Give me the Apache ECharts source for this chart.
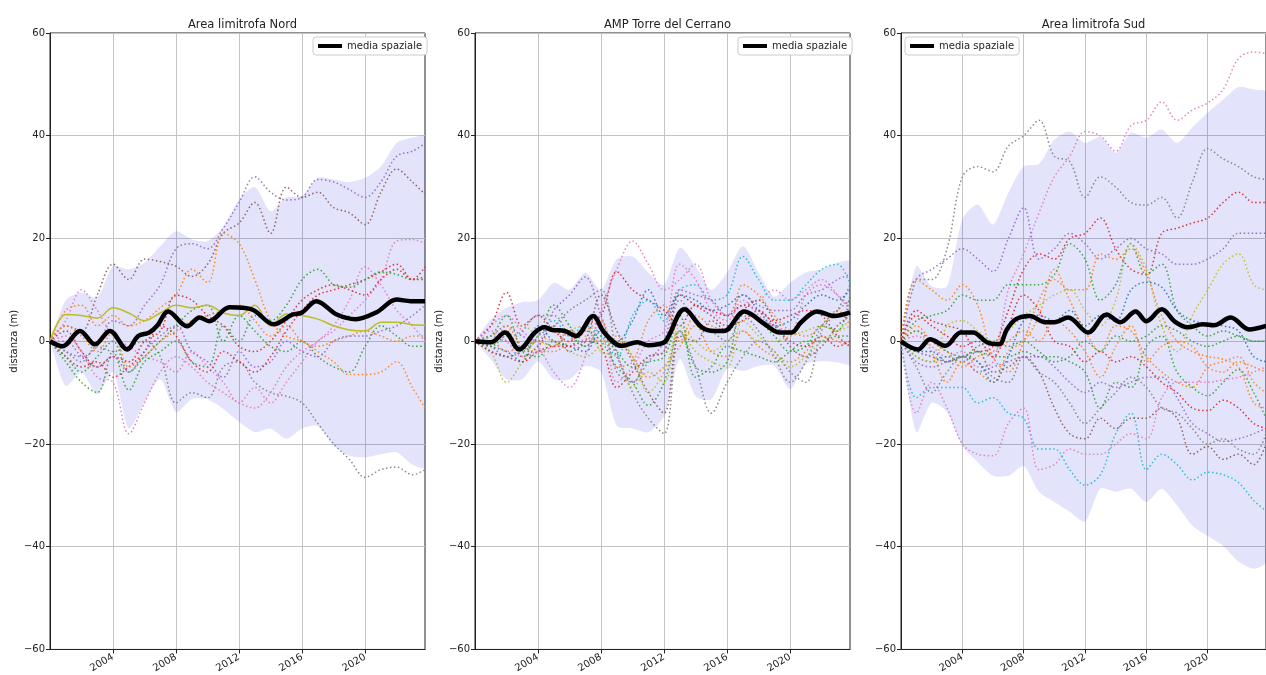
<!DOCTYPE html>
<html>
<head>
<meta charset="utf-8">
<script src="https://cdn.jsdelivr.net/npm/echarts@6/dist/echarts.min.js"></script>
<style>
  html, body { margin: 0; padding: 0; background: #ffffff; }
  #chart { width: 1266px; height: 675px; }
</style>
</head>
<body>
<div id="chart"></div>
<script>
// ---- sampling years for the transect series and the envelope ----
const YEARS = [2000, 2001, 2002, 2003, 2004, 2005, 2006, 2007, 2008, 2009, 2010, 2011,
               2012, 2013, 2014, 2015, 2016, 2017, 2018, 2019, 2020, 2021, 2022, 2023, 2023.8];
const TICK_YEARS = [2004, 2008, 2012, 2016, 2020];
const PANEL_TITLES = ['Area limitrofa Nord', 'AMP Torre del Cerrano', 'Area limitrofa Sud'];
const MEAN_NAME = 'media spaziale';

// ---- Area limitrofa Nord ----
const nordMeanYears = [2000, 2000.8, 2001.9, 2002.85, 2003.8, 2004.9, 2005.6, 2006.3, 2006.8, 2007.5, 2008.7,
  2009.5, 2010.1, 2011.4, 2012.8, 2014.2, 2015.4, 2016, 2016.9, 2018.2, 2019.4, 2020.7, 2022, 2022.9, 2023.8];
const nordMean = [0, -1, 2, -0.6, 2, -1.6, 1, 1.7, 3, 5.8, 2.9, 4.6, 3.9, 6.6, 6.2, 3.3, 5.2, 5.6, 7.8, 5.2,
  4.3, 5.6, 8.1, 7.8, 7.8];
const nordUpper = [0, 8, 9.5, 8.5, 14.6, 14, 15.3, 18.5, 21.4, 19.8, 19.5, 22.3, 27.6, 30, 25.3, 28, 28.2,
  31.8, 31.5, 31, 31.8, 34, 38.6, 39.6, 39.8];
const nordLower = [0, -8.7, -6, -10.3, -6, -17, -11.8, -7.4, -13.8, -11.3, -11.3, -13.2, -15.7, -17.7, -17,
  -19, -17, -16.5, -20.3, -22.3, -22.6, -22, -21.6, -24, -24.5];
const nord1 = [0, -2, -3, -1, 4, 3, 7, 11, 18, 19, 18, 22, 27, 32, 29, 27.5, 28, 31.5, 31, 29.5, 28, 31, 36, 37, 38.5];
const nord2 = [0, 3, 2, 9, 15, 12, 16, 15.5, 14.6, 12.6, 15, 21, 23, 27, 21, 30, 28, 29, 26, 25, 22.7, 29, 33.5, 31, 28.6];
const nord3 = [0, -2, -4, -1, -2, -1, 0, -3, -12, -10, -11, -5, -4, -8, -10, -10.7, -12, -16, -20, -23, -26.5, -25, -24.5, -26, -25];
const nord4 = [0, 6, 7, 3, 5, 3, 4, 6.5, 9, 14, 11.4, 21, 19, 12, 4, 1, 0, -2, -4, -6.5, -6.5, -6, -4, -9, -13];
const nord5 = [0, 5.2, 5, 4.5, 6.5, 5.5, 4, 5.5, 7, 6.5, 7, 5.5, 5, 7, 3, 5.3, 5, 4.3, 3, 2.2, 2, 3.7, 3.7, 3.2, 3.1];
const nord6 = [0, 4, 10, 6, 1, -1, -3, -4, -6, -2, -5, -8, -12, -9, -12, -8, -4, 0, 2, 5, 8, 12, 19.5, 19.8, 19];
const nord7 = [0, 1, -2, -7, -8, -18, -12, -6, -3, -5, -8, -10, -12, -13, -10, -5, -2, 0, 3, 8, 14.5, 11, 6, 3, 0];
const nord8 = [0, -3, -5, -4, -7, -5, -2, 3, 1, -4, -6, -2, -4, -6, -3, 2, 6, 9, 10, 11, 12, 13.5, 15, 12, 14.5];
const nord9 = [0, 2, -2, -5, -3, -4, 0, 2, 9, 8, 5, 3, -1, -2, 0, 4, 8, 10, 11, 10, 9, 12, 14, 12, 12];
const nord10 = [0, -4, -8, -10, -2, -9.5, -4, -2, 0, -4, -5, 3, 0, 5, 4, 7, 12, 14, 11, 10.5, 12, 13.5, 13, 12, 12.5];
const nord11 = [0, -3, -6, -3, 0, -6, -3, 0, 3, 6, 7, 0, 5, 2, -1, -2, 0, -3, -5, -6, -1, 3, 1, -1, -1];
const nord12 = [0, 3, 1, -2, 2, -5, -3, 0, 2, 4, 5, 6, 7, 4, 1, 3, 0, -1, 0, 1, 2, 1, 0, 1, 1];
const nord13 = [0, 0, -3, -5, -3, -6, -2, 1, 3, -2, -4, -7, -2, -5, -4, 0, -2, -3, 0, 1, 1, 2, 3, 5, 7];

// ---- AMP Torre del Cerrano ----
const cerrMeanYears = [2000, 2001, 2001.9, 2002.8, 2003.8, 2004.4, 2004.9, 2005.7, 2006.4, 2007.5, 2008.2,
  2009.3, 2010.3, 2011, 2011.6, 2012.1, 2013.3, 2014.4, 2015.2, 2015.8, 2017.1, 2018.4, 2019.3, 2020.1,
  2020.7, 2021.7, 2022.8, 2023.8];
const cerrMean = [0, -0.2, 1.7, -1.6, 1.7, 2.7, 2.2, 2, 1, 4.9, 1.7, -0.9, -0.2, -0.8, -0.6, 0, 6.2, 2.7, 2,
  2, 5.8, 3.3, 1.7, 1.7, 3.7, 5.8, 4.9, 5.6];
const cerrUpper = [0, 4.3, 6.5, 7.6, 8, 11.4, 10, 13.4, 10, 16, 16.5, 13.4, 11, 18.2, 14.6, 10, 13.4, 18.5,
  13.4, 8.7, 11.4, 13.4, 14, 15.3, 15.5];
const cerrLower = [0, -3.5, -7.4, -7.4, -3.9, -7.4, -7.4, -4.8, -6, -16.5, -17, -17.7, -14.6, -3.5, -10.7,
  -11.3, -5.4, -5.8, -4.8, -4.8, -9.3, -4.5, -3.9, -4.1, -4.4];
const cerr1 = [0, 3, 5, 2, -1, -6, -9, -3, 6, 14, 19.5, 15, 10, 12, 15, 8, 5, 7, 8, 10, 8, 10, 12, 9, 6];
const cerr2 = [0, 3, 9.5, 3, 5, 2, 0, 3, 5, 13.5, 10, 8, 6, 3, 7, 6, 5, 7, 6, 4, 5, 6, 5, 1, -1];
const cerr3 = [0, -1, -3, -2, 1, 3, 6, 8, 10, -2, -10, -15, -18, 2, -5, -14, -8, -3, 0, -2, -6, -8, 2, 6, 11];
const cerr4 = [0, -2, -3, -1, 2, 4, 1, 3, 1, -3, 5, 8, 4, 10, 11, 8, 9, 16.5, 12, 8, 8, 11, 14, 15, 11];
const cerr5 = [0, -2, -8, -4, 0, -1, 2, 3, -2, -3, -9, -6, -8, 3, 0, -2, 0, 2, 0, 0, 1, 2, 3, 2, 3];
const cerr6 = [0, 1, 5, -2, -3, 0, -1, 2, 0, -5, -8, -12.5, -8, 2, -5, -6, -4, 6, 4, 1, -2, -1, 3, 2, 9];
const cerr7 = [0, 1, 3, 1, 0, 6, 9, 12.5, 5, -3, -8, -4, 0, 10, 9, 8, 5, 9, 7, 6, 6, 9, 10, 12, 13];
const cerr8 = [0, -1, 3, -1, -2, -2, 0, 2, 4, -5, -4, 4, 7, 0, 5, 3, 2, 11, 9, 5, 2, 1, 3, 6, 3];
const cerr9 = [0, 0, 2, -3, -1, 3, -2, 0, 9, 2, -4, -10, -14, 1, 0, 4, 2, 6, 8, 4, -1, -3, -1, 3, 5];
const cerr10 = [0, -1, -2, -4, 3, 0, -1, -2, 2, 0, 4, 10, 5, 9, 8, 6, 7, 9, 6, 3, 4, 7, 9, 8, 10];
const cerr11 = [0, -2, -3, -4, -2, -1, -1, 0, -1, -9, -6, -3, -2, 9, 7, 5, 3, 4, 6, 3, 0, -1, 1, -1, 0];
const cerr12 = [0, 2, 0, -3, -2, -1, 2, 0, 4, -8, -5, 0, 2, 15, 12, 6, 4, 8, 5, 3, 2, 9, 11, 9, 7];
const cerr13 = [0, 0, -2, -1, 0, -1, 2, 1, 0, 1, -3, -7, -5, -1, 3, -2, -3, 2, -1, -3, -4, -2, 1, 0, -1];
const cerr14 = [0, -1, 1, -2, 1, 7, 3, -1, 1, -2, -5, -4, -3, 5, -7, -5, -1, -2, -3, -4, -2, 0, 0, 1, 1];
const cerr15 = [0, 1, 2, 3, 1, 0, -2, -3, -1, 0, -3, -10, -6, 2, -2, -4, -5, 4, 1, -2, -5, -3, 0, 2, 4];
const cerr16 = [0, 1, 0, 2, 5, 5, 1, -1, 3, -6, -8, -3, -2, 8, 4, 2, 0, 5, 2, -3, -8, -4, 3, 6, 8];

// ---- Area limitrofa Sud ----
const sudMeanYears = [2000, 2001.1, 2001.9, 2002.9, 2003.9, 2004.7, 2005.6, 2006.4, 2006.9, 2007.5, 2008.4,
  2009.4, 2010, 2010.9, 2012.2, 2013.4, 2014.3, 2015.3, 2016, 2017, 2017.9, 2018.7, 2019.7, 2020.4, 2021.5,
  2022.7, 2023.8];
const sudMean = [0, -1.6, 0.4, -0.9, 1.7, 1.7, -0.2, -0.6, 2.3, 4.3, 4.9, 3.7, 3.7, 4.6, 1.7, 5.2, 3.7, 5.8,
  3.9, 6.2, 3.7, 2.7, 3.3, 3.1, 4.6, 2.3, 3];
const sudUpper = [0, 14.6, 10.7, 10.7, 23.7, 26.6, 22.7, 28.9, 34, 34.5, 39.2, 40.8, 38.6, 39.8, 36.7, 40.6,
  39.6, 41.2, 38.6, 41.6, 44.5, 47, 49.5, 49, 48.5];
const sudLower = [0, -17.7, -12, -13.8, -20.4, -23.5, -26.2, -26.2, -24.3, -29.3, -31.3, -33.2, -35.1, -28.7,
  -29.3, -28.7, -31.3, -28.7, -32, -35.9, -37.9, -39.8, -42.9, -44.3, -43];
const sud1 = [0, 1, -1, -3, -2, -5, -4, 10, 17, 25, 32, 36, 40.8, 40, 37, 42, 43, 46.6, 43, 45, 46.4, 49, 55, 56.3, 56];
const sud2 = [0, 12, 12, 18, 32, 34, 33, 38, 40, 43, 36, 35, 28, 32, 30, 27, 26.5, 28, 24, 31, 37.5, 35.5, 34, 32, 31.5];
const sud3 = [0, 6, 4, 3, 2, -2, -1, 6, 14, 17, 16, 20, 21, 24, 18, 14, 13, 21, 22, 23, 24, 27, 29, 27, 27];
const sud4 = [0, 12, 14, 16, 18, 16, 13.6, 20, 26, 16, 18, 21, 19, 16, 18, 20, 18, 17, 15, 15, 16, 18, 21, 21, 21];
const sud5 = [0, 4, 5, 6, 9, 8, 8, 11, 11, 11, 13, 19, 16, 8, 11, 19, 13, 15, 6, 3, 1, 2, 1, 0, 0];
const sud6 = [0, -3, -4, -3, -4, -2, -3, -3, -2, -3, -3, -4, -6, -13, -8, -9, -1, 1, -6, -9, -10.6, -8, -5.5, -10, -15];
const sud7 = [0, 12, 10, 8, 11, 7, -3, -6, 0, 8, 12, 10, 10, 17, 16, 18, 13, 5, 0, -2, -3, -3.5, -5, -12, -13];
const sud8 = [0, 2, -2, -8, -4, -6, -8, -2, 0, 5, 14, 8, 2, -2, 3, 2, -3, -6, -8, -9, -5, -4, -3, -8, -10];
const sud9 = [0, -3, -4, 3, 4, 2, 0, 2, 5, 7, 9, 10, 6, 3, 8, 19, 14, 3, -2, 5, 10, 15, 17, 11, 10];
const sud10 = [0, -11, -9, -9, -9, -12, -11, -14, -15, -21, -21, -25, -28, -26, -18, -14, -25, -22, -24, -27, -25.5, -26, -27.5, -31, -33];
const sud11 = [0, -14, -8, -13, -20, -22, -22.3, -16, -13, -25, -24, -21, -22, -22, -20, -18, -19, -11, -8, -8, -8, -7.5, -7, -6, -5];
const sud12 = [0, -2, -3, -4, -3, -2, -6, -5, -3, -6, -13, -18, -19, -15, -17, -15, -15, -13, -15, -22, -20.5, -23, -22, -24, -20];
const sud13 = [0, -4, -5, -4, -3, -6, -5, -4, -3, -3, -5, -8, -10, -8, -9, -8, -7, -7, -11, -16, -18, -19.5, -19, -18, -17];
const sud14 = [0, -2, -2, -4, -3, -4, -8, -3, 4, 5, 4, 6, 3, 5, 4, 10, 11.5, 10.5, 6, 4, 3.5, 3, 2, -3, -4];
const sud15 = [0, 5, 3, 1, -1, 0, -3, 3, 9, 6, 0, -1, -4, -2, -4, -3, -5, -8, -10, -13, -13.5, -11.5, -13, -16, -17];
const sud16 = [0, -5, -10, -6, -3, -4, -7, -8, -3, -6, -8, -12, -16, -13, -10, -7, -9, -13, -14, -17, -20, -19, -21, -22, -18];
const sud17 = [0, 3, 0, -2, -5, -3, -2, 0, 2, 0, 4, 2, -2, -7, -1, 3, -4, -1, 0, -1, -5, -6, -4, -5, -6];
const sud18 = [0, 2, 0, -2, -3, -1, 0, -1, 0, -2, -4, -3, 0, -2, 1, 0, 1, 3, 2, 0, -1, 0, 1, 0, 0];

// ---- styling ----
const C = {
  blue: '#1f77b4', orange: '#ff7f0e', green: '#2ca02c', red: '#d62728', purple: '#9467bd',
  brown: '#8c564b', pink: '#e377c2', gray: '#7f7f7f', olive: '#bcbd22', cyan: '#17becf'
};
const FONT = 'DejaVu Sans';
const BAND_COLOR = 'rgba(40,40,230,0.13)';
const GRID_W = 375;
const GRID_LEFTS = [50, 475, 901];
const GRID_TOP = 33;
const GRID_H = 618;

const panels = [
  {
    meanX: nordMeanYears, mean: nordMean, upper: nordUpper, lower: nordLower,
    lines: [
      [nord1, C.purple], [nord2, C.brown], [nord3, C.gray], [nord4, C.orange], [nord6, C.pink],
      [nord7, C.pink], [nord8, C.red], [nord9, C.red], [nord10, C.green], [nord11, C.green],
      [nord12, C.orange], [nord13, C.purple]
    ],
    solid: [[nord5, C.olive]],
    legendLeft: 313
  },
  {
    meanX: cerrMeanYears, mean: cerrMean, upper: cerrUpper, lower: cerrLower,
    lines: [
      [cerr1, C.pink], [cerr2, C.red], [cerr3, C.gray], [cerr4, C.cyan], [cerr5, C.olive],
      [cerr6, C.green], [cerr7, C.purple], [cerr8, C.orange], [cerr9, C.brown], [cerr10, C.blue],
      [cerr11, C.red], [cerr12, C.pink], [cerr13, C.orange], [cerr14, C.green], [cerr15, C.olive],
      [cerr16, C.gray]
    ],
    solid: [],
    legendLeft: 738
  },
  {
    meanX: sudMeanYears, mean: sudMean, upper: sudUpper, lower: sudLower,
    lines: [
      [sud1, C.pink], [sud2, C.gray], [sud3, C.red], [sud4, C.purple], [sud5, C.green],
      [sud6, C.green], [sud7, C.orange], [sud8, C.orange], [sud9, C.olive], [sud10, C.cyan],
      [sud11, C.pink], [sud12, C.brown], [sud13, C.purple], [sud14, C.blue], [sud15, C.red],
      [sud16, C.gray], [sud17, C.orange], [sud18, C.green]
    ],
    solid: [],
    legendLeft: 905
  }
];

function pairs(xs, ys) { return xs.map((x, i) => [x, ys[i]]); }
function minusFmt(v) { return v < 0 ? '\u2212' + Math.abs(v) : String(v); }

// Envelope between lower and upper edges, drawn as one filled polygon
// whose vertices go through the axis scales via api.coord.
function bandRenderer(upper, lower) {
  return function (params, api) {
    if (params.dataIndex !== 0) return null;
    const top = YEARS.map((x, i) => api.coord([x, upper[i]]));
    const bottom = YEARS.map((x, i) => api.coord([x, lower[i]])).reverse();
    return {
      type: 'polygon',
      shape: { points: top.concat(bottom), smooth: 0.25 },
      style: { fill: BAND_COLOR, stroke: 'none' },
      clipPath: {
        type: 'rect',
        shape: { x: params.coordSys.x, y: params.coordSys.y,
                 width: params.coordSys.width, height: params.coordSys.height }
      }
    };
  };
}

const grids = [], xAxes = [], yAxes = [], titles = [], legends = [], series = [];

panels.forEach((p, k) => {
  grids.push({
    left: GRID_LEFTS[k], top: GRID_TOP, width: GRID_W, height: GRID_H,
    show: true, borderColor: '#222', borderWidth: 1, backgroundColor: 'transparent'
  });
  xAxes.push({
    gridIndex: k, type: 'value', min: 2000, max: 2023.8, interval: 4,
    axisLine: { show: true, onZero: false, lineStyle: { color: '#222', width: 1 } },
    axisTick: { show: true, length: 4, lineStyle: { color: '#222' },
                customValues: TICK_YEARS },
    axisLabel: {
      rotate: 30, margin: 7, fontFamily: FONT, fontSize: 10, color: '#222',
      customValues: TICK_YEARS, formatter: v => String(v)
    },
    splitLine: { show: true, lineStyle: { color: '#c4c4c4', width: 1 } }
  });
  yAxes.push({
    gridIndex: k, type: 'value', min: -60, max: 60, interval: 20,
    name: 'distanza (m)', nameLocation: 'middle', nameGap: 31, nameRotate: 90,
    nameTextStyle: { fontFamily: FONT, fontSize: 10, color: '#222' },
    axisLine: { show: true, onZero: false, lineStyle: { color: '#222', width: 1 } },
    axisTick: { show: true, length: 4, lineStyle: { color: '#222' } },
    axisLabel: { margin: 5, fontFamily: FONT, fontSize: 10, color: '#222', formatter: minusFmt },
    splitLine: { show: true, lineStyle: { color: '#c4c4c4', width: 1 } }
  });
  titles.push({
    text: PANEL_TITLES[k], left: GRID_LEFTS[k] + GRID_W / 2, top: 14, textAlign: 'center',
    textStyle: { fontFamily: FONT, fontSize: 11.5, fontWeight: 'normal', color: '#222' }
  });
  legends.push({
    data: [MEAN_NAME], left: p.legendLeft, top: 37,
    icon: 'rect', itemWidth: 24, itemHeight: 4, itemGap: 6,
    padding: [4, 5, 4, 5], borderColor: '#cccccc', borderWidth: 1, borderRadius: 3,
    backgroundColor: '#ffffff',
    textStyle: { fontFamily: FONT, fontSize: 10, color: '#222' },
    selectedMode: false
  });

  series.push({
    type: 'custom', xAxisIndex: k, yAxisIndex: k, silent: true, z: 1,
    data: YEARS.map((x, i) => [x, p.upper[i], p.lower[i]]),
    encode: { x: 0, y: [1, 2] },
    renderItem: bandRenderer(p.upper, p.lower)
  });

  p.lines.forEach(([vals, col]) => {
    series.push({
      type: 'line', xAxisIndex: k, yAxisIndex: k, data: pairs(YEARS, vals),
      smooth: 0.35, symbol: 'none', silent: true,
      lineStyle: { color: col, width: 1.5, type: [1.5, 2.5], opacity: 0.9 }, z: 2
    });
  });
  p.solid.forEach(([vals, col]) => {
    series.push({
      type: 'line', xAxisIndex: k, yAxisIndex: k, data: pairs(YEARS, vals),
      smooth: 0.35, symbol: 'none', silent: true,
      lineStyle: { color: col, width: 1.5 }, z: 2
    });
  });

  series.push({
    name: MEAN_NAME, type: 'line', xAxisIndex: k, yAxisIndex: k, data: pairs(p.meanX, p.mean),
    smooth: 0.35, symbol: 'none', itemStyle: { color: '#000' },
    lineStyle: { color: '#000', width: 4.5 }, z: 5
  });
});

const chart = echarts.init(document.getElementById('chart'), null, { renderer: 'canvas' });
chart.setOption({
  animation: false,
  backgroundColor: '#ffffff',
  title: titles,
  legend: legends,
  grid: grids,
  xAxis: xAxes,
  yAxis: yAxes,
  series: series
});
</script>
</body>
</html>
